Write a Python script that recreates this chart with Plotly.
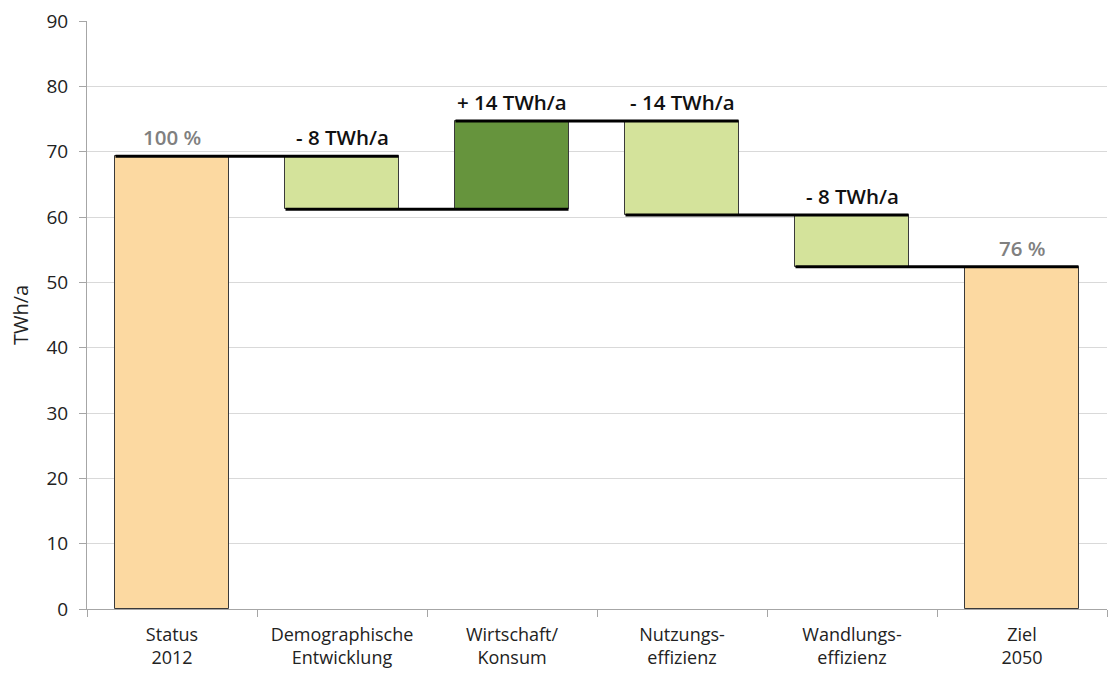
import plotly.graph_objects as go

categories = ["Status<br>2012", "Demographische<br>Entwicklung", "Wirtschaft/<br>Konsum",
              "Nutzungs-<br>effizienz", "Wandlungs-<br>effizienz", "Ziel<br>2050"]
start_value = 69.3
deltas = [-8.1, 13.5, -14.4, -7.9]
labels = ["100 %", "- 8 TWh/a", "+ 14 TWh/a", "- 14 TWh/a", "- 8 TWh/a", "76 %"]

# cumulative levels
levels = [start_value]
for d in deltas:
    levels.append(levels[-1] + d)
end_value = levels[-1]

bases, heights, colors = [], [], []
bases.append(0); heights.append(start_value); colors.append("#FCD9A1")
for i, d in enumerate(deltas):
    prev, cur = levels[i], levels[i + 1]
    bases.append(min(prev, cur)); heights.append(abs(d))
    colors.append("#66943D" if d > 0 else "#D4E39B")
bases.append(0); heights.append(end_value); colors.append("#FCD9A1")

W = 0.665
fig = go.Figure()
fig.add_trace(go.Bar(x=categories, y=heights, base=bases, width=W,
                     marker=dict(color=colors, line=dict(color="#3a3a3a", width=1)),
                     hoverinfo="skip", showlegend=False))

# connector lines spanning adjacent bars
for i, lv in enumerate(levels):
    fig.add_shape(type="line", xref="x", yref="y",
                  x0=i - W / 2, x1=i + 1 + W / 2, y0=lv, y1=lv,
                  line=dict(color="black", width=3), layer="above")

tops = [b + h for b, h in zip(bases, heights)]
for i, (t, lab) in enumerate(zip(tops, labels)):
    grey = "%" in lab
    fig.add_annotation(x=categories[i], y=t, text=lab, showarrow=False,
                       yanchor="bottom", yshift=3,
                       font=dict(family="Open Sans", size=20.5, weight=600,
                                 color="#808080" if grey else "#111111"))

# y axis title
fig.add_annotation(xref="paper", yref="paper", x=-67 / 1020, y=0.5, text="TWh/a",
                   textangle=-90, showarrow=False, xanchor="center", yanchor="middle",
                   font=dict(family="Open Sans", size=20, color="#222222"))

# page body has an 8px margin -> compensate
fig.update_layout(
    width=1103, height=668,
    margin=dict(l=79, r=4, t=13, b=67),
    paper_bgcolor="white", plot_bgcolor="white",
    font=dict(family="Open Sans", size=18, color="#222222"),
    bargap=0,
)
fig.update_xaxes(type="category", tickson="boundaries", ticks="outside", ticklen=7,
                 tickcolor="#a6a6a6", showline=True, linecolor="#a6a6a6", linewidth=1,
                 showgrid=False, automargin=False, ticklabelstandoff=9,
                 ticklabeloverflow="allow",
                 tickfont=dict(size=18, color="#222222"))
fig.update_yaxes(range=[0, 90.001], tickvals=[0, 10, 20, 30, 40, 50, 60, 70, 80, 90],
                 ticks="outside", ticklen=7, tickcolor="#a6a6a6",
                 showline=True, linecolor="#a6a6a6", linewidth=1, automargin=False,
                 showgrid=True, gridcolor="#d9d9d9", gridwidth=1, zeroline=False,
                 ticklabelstandoff=7, ticklabeloverflow="allow",
                 tickfont=dict(size=19, color="#222222"))

fig.write_html("out.html")
